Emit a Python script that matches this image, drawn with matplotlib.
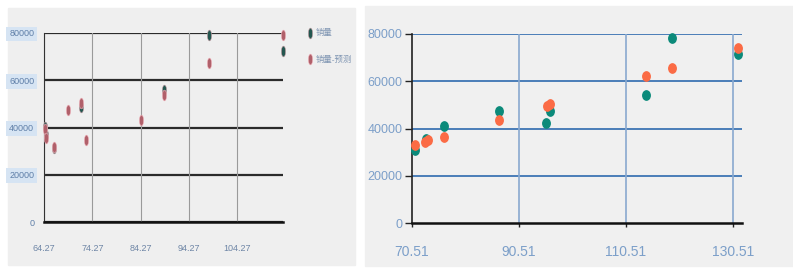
import matplotlib.pyplot as plt
import numpy as np
from matplotlib.patches import Rectangle
from matplotlib.path import Path
from matplotlib.transforms import Affine2D

plt.rcParams['font.family'] = ['Liberation Sans', 'Noto Sans CJK SC', 'DejaVu Sans']

# Left chart data
left_xticks = [64.27, 74.27, 84.27, 94.27, 104.27]
left_teal_x = [64.5, 64.6, 66.3, 71.9, 89.1, 98.5, 113.7]
left_teal_y = [40300, 37000, 31500, 48800, 55900, 79300, 72200]
left_orange_x = [64.4, 64.6, 66.3, 69.2, 71.9, 72.9, 84.3, 89.1, 98.5, 113.7]
left_orange_y = [39500, 35500, 31900, 47400, 50300, 34700, 43200, 53800, 67500, 79300]
left_labels = ['销量', '销量-预测']

# Right chart data
right_xticks = [70.51, 90.51, 110.51, 130.51]
right_teal_x = [71.0, 73.1, 76.4, 86.7, 95.6, 96.4, 114.2, 119.2, 131.5]
right_teal_y = [31000, 35500, 41100, 47200, 42300, 47200, 54200, 78500, 71400]
right_orange_x = [71.0, 72.9, 73.5, 76.4, 86.7, 95.8, 96.4, 114.2, 119.2, 131.5]
right_orange_y = [33100, 34100, 35200, 36600, 43700, 49600, 50300, 62300, 65500, 73900]

yticks = [0, 20000, 40000, 60000, 80000]

W, H = 793, 275
fig = plt.figure(figsize=(W / 100, H / 100), dpi=100)
fig.patch.set_facecolor('white')


def px(x0, y0, x1, y1):
    # pixel box (top-left origin) -> figure fraction rect
    return [x0 / W, 1 - y1 / H, (x1 - x0) / W, (y1 - y0) / H]


# panel backgrounds
fig.patches.append(Rectangle((8 / W, 1 - 265 / H), 347 / W, 257 / H,
                             transform=fig.transFigure, color='#efefef', zorder=-10))
fig.patches.append(Rectangle((365 / W, 1 - 266 / H), 428 / W, 260 / H,
                             transform=fig.transFigure, color='#f0f0f0', zorder=-10))


def ellipse(sx):
    return Path.unit_circle().transformed(Affine2D().scale(sx, 1.0))


# ---- left chart ----
ax1 = fig.add_axes(px(44, 33, 283, 222))
ax1.set_facecolor('none')
ax1.set_xlim(64.27, 113.75)
ax1.set_ylim(0, 80000)
for y in yticks:
    ax1.axhline(y, color='#2b2b2b', lw=1.6, zorder=1)
for x in left_xticks:
    ax1.axvline(x, color='#9a9a9a', lw=0.8, zorder=1)
ax1.scatter(left_teal_x, left_teal_y, marker=ellipse(0.4), s=60,
            color='#24564f', edgecolor='#c9a0a8', lw=0.4, zorder=3, clip_on=False,
            label=left_labels[0])
ax1.scatter(left_orange_x, left_orange_y, marker=ellipse(0.4), s=60,
            color='#b0606a', edgecolor='#f2b8c0', lw=0.4, zorder=3, clip_on=False,
            label=left_labels[1])
for s in ['top', 'right']:
    ax1.spines[s].set_visible(False)
ax1.spines['left'].set_color('#333333')
ax1.spines['bottom'].set_color('#111111')
ax1.spines['bottom'].set_linewidth(1.8)
ax1.set_xticks(left_xticks)
ax1.set_xticklabels([f'{v:.2f}' for v in left_xticks], fontsize=6.5, color='#6f86a6')
ax1.set_yticks(yticks)
ax1.set_yticklabels([str(v) for v in yticks], fontsize=6.5, color='#5f7fa8')
for lab in ax1.get_yticklabels():
    if lab.get_text() != '0':
        lab.set_bbox(dict(facecolor='#d6e4f3', edgecolor='none', pad=2))
ax1.tick_params(axis='y', length=0, pad=7)
ax1.tick_params(axis='x', length=0, pad=16)
ax1.legend(loc='upper left', bbox_to_anchor=(302 / W, 1 - 25 / H),
           bbox_transform=fig.transFigure, frameon=False, fontsize=6,
           handletextpad=0.3, labelspacing=2.2, borderpad=0, handlelength=0.8,
           labelcolor='#7f95b2')

# ---- right chart ----
ax2 = fig.add_axes(px(412, 34, 742, 223))
ax2.set_facecolor('none')
ax2.set_xlim(70.51, 132.2)
ax2.set_ylim(0, 80000)
for y in yticks[1:]:
    ax2.axhline(y, color='#4a7db8', lw=1.4, zorder=1)
for x in right_xticks[1:]:
    ax2.axvline(x, color='#89a9cf', lw=1.2, zorder=1)
h1 = ax2.scatter(right_teal_x, right_teal_y, marker=ellipse(0.8), s=45,
                 color='#0b8a7a', zorder=3, clip_on=False)
h2 = ax2.scatter(right_orange_x, right_orange_y, marker=ellipse(0.8), s=45,
                 color='#fb6b45', zorder=3, clip_on=False)
for s in ['top', 'right']:
    ax2.spines[s].set_visible(False)
ax2.spines['left'].set_color('#222222')
ax2.spines['left'].set_linewidth(1.2)
ax2.spines['bottom'].set_color('#111111')
ax2.spines['bottom'].set_linewidth(1.8)
ax2.set_xticks(right_xticks)
ax2.set_xticklabels([f'{v:.2f}' for v in right_xticks], fontsize=10, color='#7c9fc9')
ax2.set_yticks(yticks)
ax2.set_yticklabels([str(v) for v in yticks], fontsize=9, color='#7c9fc9')
ax2.tick_params(axis='y', length=5, width=1, color='#222222', pad=2)
ax2.tick_params(axis='x', length=3, width=1, color='#222222', pad=13)
# legend sits past the right edge; only its markers are visible
ax2.legend([h1, h2], ['', ''], loc='upper left', bbox_to_anchor=(786 / W, 1 - 28 / H),
           bbox_transform=fig.transFigure, frameon=False, fontsize=9,
           handletextpad=0.5, labelspacing=1.3, borderpad=0, handlelength=0.8)

fig.savefig('out.png', dpi=100)
